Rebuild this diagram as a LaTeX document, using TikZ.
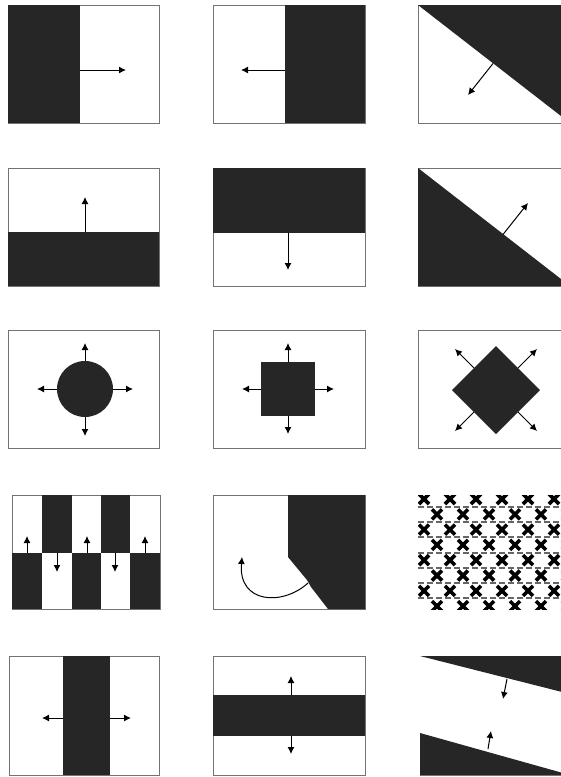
\documentclass[tikz,border=0pt]{standalone}
\usetikzlibrary{arrows.meta}
\begin{document}
\begin{tikzpicture}[x=1pt,y=-1pt,
  dark/.style={fill=black!85},
  frame/.style={draw=black!55,line width=0.6pt},
  arr/.style={line width=1pt,-{Latex[length=7pt,width=7pt]}},
  xmark/.style={line width=3.6pt,black}]
\useasboundingbox (0,0) rectangle (561,777);
\clip (0,0) rectangle (561,777);
\fill[white] (0,0) rectangle (561,777);

% ---------- row 1 ----------
\draw[frame] (8,5) rectangle (159,123);
\fill[dark] (8,5) rectangle (80,123);
\coordinate (p11s) at (80,70); \coordinate (p11e) at (126,70);
\draw[arr] (p11s) -- (p11e);

\draw[frame] (213,5) rectangle (365,123);
\fill[dark] (285,5) rectangle (365,123);
\coordinate (p12s) at (285,70); \coordinate (p12e) at (241,70);
\draw[arr] (p12s) -- (p12e);

\draw[frame] (418,5) rectangle (570,123);
\fill[dark] (418,5) -- (570,5) -- (570,123) -- cycle;
\coordinate (p13s) at (493,63.5); \coordinate (p13e) at (468,95);
\draw[arr] (p13s) -- (p13e);

% ---------- row 2 ----------
\draw[frame] (8,168) rectangle (159,286);
\fill[dark] (8,232) rectangle (159,286);
\coordinate (p21s) at (85,232); \coordinate (p21e) at (85,197);
\draw[arr] (p21s) -- (p21e);

\draw[frame] (213,168) rectangle (365,286);
\fill[dark] (213,168) rectangle (365,233);
\coordinate (p22s) at (288,233); \coordinate (p22e) at (288,270);
\draw[arr] (p22s) -- (p22e);

\draw[frame] (418,168) rectangle (570,286);
\fill[dark] (418,168) -- (418,286) -- (570,286) -- cycle;
\coordinate (p23s) at (503,234.5); \coordinate (p23e) at (528,203);
\draw[arr] (p23s) -- (p23e);

% ---------- row 3 ----------
\draw[frame] (8,330) rectangle (159,448);
\fill[dark] (85,389) circle[radius=28];
\draw[arr] (57,389) -- (37,389);
\draw[arr] (113,389) -- (133,389);
\draw[arr] (85,361) -- (85,343);
\draw[arr] (85,417) -- (85,436);

\draw[frame] (213,330) rectangle (365,448);
\fill[dark] (261,362) rectangle (315,416);
\draw[arr] (288,362) -- (288,343);
\draw[arr] (288,416) -- (288,434);
\draw[arr] (261,389) -- (242,389);
\draw[arr] (315,389) -- (334,389);

\draw[frame] (418,330) rectangle (570,448);
\fill[dark] (496,346) -- (540,390) -- (496,434) -- (452,390) -- cycle;
\draw[arr] (474,368) -- (455,349);
\draw[arr] (518,368) -- (537,349);
\draw[arr] (474,412) -- (455,431);
\draw[arr] (518,412) -- (537,431);

% ---------- row 4 ----------
\draw[frame] (12,495) rectangle (160,609);
\fill[dark] (42,495) rectangle (72,553);
\fill[dark] (101,495) rectangle (130,553);
\fill[dark] (12,553) rectangle (42,609);
\fill[dark] (72,553) rectangle (101,609);
\fill[dark] (130,553) rectangle (160,609);
\draw[arr] (27,553) -- (27,536);
\draw[arr] (87,553) -- (87,536);
\draw[arr] (145,553) -- (145,536);
\draw[arr] (57,553) -- (57,572);
\draw[arr] (115,553) -- (115,572);

\draw[frame] (213,495) rectangle (365,609);
\fill[dark] (288,495) -- (365,495) -- (365,609) -- (328,609) -- (311,587)
  -- (307,580) -- (288,557) -- cycle;
\coordinate (p42s) at (308,583); \coordinate (p42e) at (242,557);
\draw[arr] (p42s) .. controls (283,606) and (238,604) .. (p42e);

% woven texture
\begin{scope}
\clip (418,495) rectangle (570,609);
\foreach \r in {0,...,7} {
  \pgfmathsetmacro{\yy}{499+\r*15.3}
  \draw[black!60,line width=2pt,dash pattern=on 6pt off 3pt] (418,\yy+7.6) -- (570,\yy+7.6);
  \pgfmathsetmacro{\off}{mod(\r,2)*13}
  \foreach \c in {0,...,6} {
    \pgfmathsetmacro{\xx}{424+\off+\c*26}
    \draw[xmark] (\xx-5,\yy-5) -- (\xx+5,\yy+5);
    \draw[xmark] (\xx-5,\yy+5) -- (\xx+5,\yy-5);
  }
}
\end{scope}

% ---------- row 5 ----------
\draw[frame] (9,656) rectangle (159,775);
\fill[dark] (63,656) rectangle (110,775);
\draw[arr] (63,718) -- (42,718);
\draw[arr] (110,718) -- (131,718);

\draw[frame] (213,656) rectangle (365,775);
\fill[dark] (213,695) rectangle (365,736);
\draw[arr] (291,695) -- (291,676);
\draw[arr] (291,736) -- (291,754);

\fill[dark] (420,656) -- (570,656) -- (570,694) -- cycle;
\fill[dark] (420,733) -- (570,775) -- (420,775) -- cycle;
\draw[frame] (420,775) -- (570,775);
\coordinate (p53a) at (507,679); \coordinate (p53b) at (503,699);
\coordinate (p53c) at (488,749); \coordinate (p53d) at (491,731);
\draw[arr] (p53a) -- (p53b);
\draw[arr] (p53c) -- (p53d);
\end{tikzpicture}
\end{document}
